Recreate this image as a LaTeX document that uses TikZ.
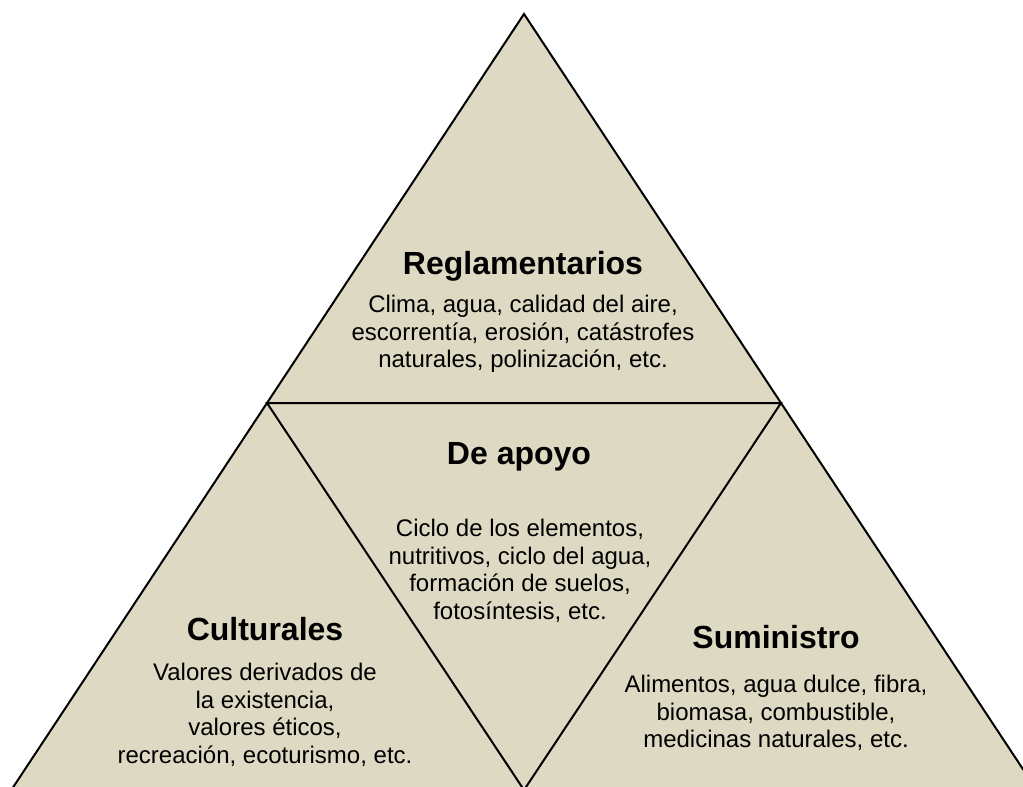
\documentclass[tikz,border=0pt]{standalone}
\usepackage{fontspec}
\setmainfont{Liberation Sans}
\definecolor{tanfill}{HTML}{DDD9C3}
\begin{document}
\begin{tikzpicture}[x=0.75pt,y=-0.75pt,
  facet/.style={fill=tanfill, draw=black, line width=1.5pt, line join=miter},
  ttl/.style={font=\fontsize{24}{27.6}\selectfont\bfseries, inner sep=0pt},
  body/.style={font=\fontsize{18}{20.7}\selectfont, align=center, inner sep=0pt}]
\useasboundingbox (0,0) rectangle (1023,787);
\clip (0,0) rectangle (1023,787);
\coordinate (A) at (524,14);
\coordinate (L) at (11.3,790);
\coordinate (R) at (1036.7,790);
\coordinate (ML) at (267,403);
\coordinate (MR) at (781,403);
\coordinate (MB) at (524,790);
\draw[facet] (A) -- (L) -- (R) -- cycle;
\draw[facet] (ML) -- (MR) -- (MB) -- cycle;

\node[ttl] (t1) at (523,266) {Reglamentarios};
\node[body] (b1) at (523,334) {Clima, agua, calidad del aire,\\escorrentía, erosión, catástrofes\\naturales, polinización, etc.};

\node[ttl] (t2) at (519,457) {De apoyo};
\node[body] (b2) at (520,571) {Ciclo de los elementos,\\nutritivos, ciclo del agua,\\formación de suelos,\\fotosíntesis, etc.};

\node[ttl] (t3) at (265,629) {Culturales};
\node[body] (b3) at (265,715) {Valores derivados de\\la existencia,\\valores éticos,\\recreación, ecoturismo, etc.};

\node[ttl] (t4) at (776,637) {Suministro};
\node[body] (b4) at (776,713) {Alimentos, agua dulce, fibra,\\biomasa, combustible,\\medicinas naturales, etc.};
\end{tikzpicture}
\end{document}
